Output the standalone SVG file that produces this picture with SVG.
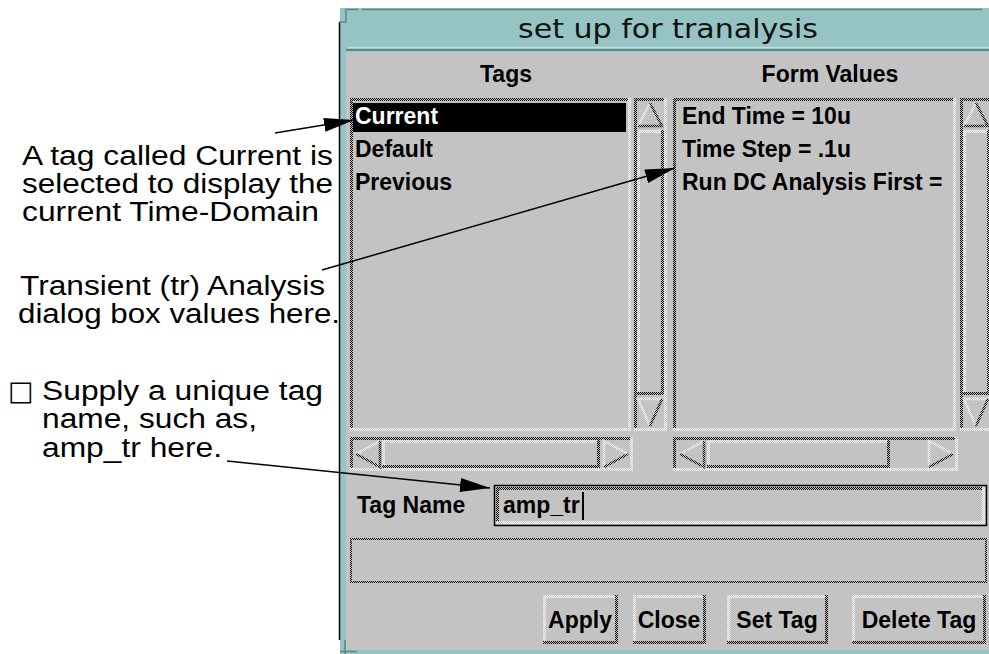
<svg xmlns="http://www.w3.org/2000/svg" width="989" height="654" viewBox="0 0 989 654">
<defs>
  <!-- Motif-style stippled bevel fills -->
  <pattern id="dk" width="2" height="2" patternUnits="userSpaceOnUse">
    <rect width="2" height="2" fill="#c3c3c3"/>
    <rect width="1" height="1" fill="#000"/>
    <rect x="1" y="1" width="1" height="1" fill="#000"/>
  </pattern>
  <pattern id="lt" width="2" height="2" patternUnits="userSpaceOnUse">
    <rect width="2" height="2" fill="#c3c3c3"/>
    <rect width="1" height="1" fill="#fff"/>
    <rect x="1" y="1" width="1" height="1" fill="#fff"/>
  </pattern>
  <marker id="ah" markerWidth="30" markerHeight="14" refX="30" refY="7" orient="auto" markerUnits="userSpaceOnUse">
    <path d="M0,0 L30,7 L0,14 Z" fill="#000"/>
  </marker>
</defs>
<style>
  .gui{font-family:"Liberation Sans",Arial,sans-serif;font-weight:bold;font-size:23px;fill:#000}
  .note{font-family:"Liberation Sans",Arial,sans-serif;font-size:27px;fill:#000}
  .d{fill:url(#dk)}
  .l{fill:url(#lt)}
  .ld{stroke:url(#lt);stroke-width:2.5;fill:none}
  .dd{stroke:url(#dk);stroke-width:2.5;fill:none}
  .conn{stroke:#000;stroke-width:1.5;fill:none;marker-end:url(#ah)}
</style>
<rect width="989" height="654" fill="#fff"/>

<!-- window frame and title bar -->
<g id="window">
  <rect x="340" y="8" width="649" height="646" fill="#96c3c3"/>
  <rect x="346" y="52" width="643" height="598" fill="#c3c3c3"/>
  <line x1="339.5" y1="22" x2="339.5" y2="640" stroke="#000" stroke-width="1.5"/>
  <line x1="362" y1="9.5" x2="982" y2="9.5" stroke="#5b8787" stroke-width="1.5"/>
  <path d="M339,22 H346 V9.5 H358" stroke="#5b8787" stroke-width="1.5" fill="none"/>
  <line x1="348" y1="47.5" x2="989" y2="47.5" stroke="#bfe0e0" stroke-width="1.5"/>
  <line x1="346" y1="50" x2="989" y2="50" stroke="#5b8787" stroke-width="2"/>
  <path d="M345,640 V654 M340,651.5 H357" stroke="#5b8787" stroke-width="1.5" fill="none"/>
  <text x="518" y="38" textLength="300" lengthAdjust="spacingAndGlyphs" font-family="DejaVu Sans, sans-serif" font-size="27" fill="#111">set up for tranalysis</text>
</g>

<g id="headers">
  <text class="gui" x="506" y="82" text-anchor="middle">Tags</text>
  <text class="gui" x="830" y="82" text-anchor="middle">Form Values</text>
</g>

<!-- Tags list -->
<g id="tags-list">
  <rect class="d" x="350" y="98" width="281" height="3"/>
  <rect class="d" x="350" y="98" width="3" height="333"/>
  <rect class="l" x="350" y="428" width="281" height="3"/>
  <rect class="l" x="628" y="98" width="3" height="333"/>
  <rect x="353" y="103" width="273" height="29" fill="#000"/>
  <text class="gui" x="355" y="124" style="fill:#fff">Current</text>
  <text class="gui" x="355" y="157">Default</text>
  <text class="gui" x="355" y="190">Previous</text>
</g>

<!-- Tags vertical scrollbar -->
<g id="tags-vscroll">
  <rect class="d" x="634" y="98" width="33" height="3"/>
  <rect class="d" x="634" y="98" width="3" height="333"/>
  <rect class="l" x="634" y="428" width="33" height="3"/>
  <rect class="l" x="664" y="98" width="3" height="333"/>
  <rect class="l" x="637" y="130" width="27" height="3"/>
  <rect class="l" x="637" y="130" width="3" height="265"/>
  <rect class="d" x="637" y="392" width="27" height="3"/>
  <rect class="d" x="661" y="130" width="3" height="265"/>
  <path class="ld" d="M638,126 L650,103"/>
  <path class="dd" d="M650,103 L662,126 L638,126"/>
  <path class="ld" d="M662,399 L638,399 L650,426"/>
  <path class="dd" d="M650,426 L662,399"/>
</g>

<!-- Form values list -->
<g id="values-list">
  <rect class="d" x="673" y="98" width="283" height="3"/>
  <rect class="d" x="673" y="98" width="3" height="333"/>
  <rect class="l" x="673" y="428" width="283" height="3"/>
  <rect class="l" x="953" y="98" width="3" height="333"/>
  <text class="gui" x="682" y="124">End Time = 10u</text>
  <text class="gui" x="682" y="157">Time Step = .1u</text>
  <text class="gui" x="682" y="190">Run DC Analysis First =</text>
</g>

<!-- Form values vertical scrollbar -->
<g id="values-vscroll">
  <rect class="d" x="960" y="98" width="33" height="3"/>
  <rect class="d" x="960" y="98" width="3" height="333"/>
  <rect class="l" x="960" y="428" width="33" height="3"/>
  <rect class="l" x="963" y="130" width="27" height="3"/>
  <rect class="l" x="963" y="130" width="3" height="265"/>
  <rect class="d" x="963" y="392" width="27" height="3"/>
  <rect class="d" x="987" y="130" width="3" height="265"/>
  <path class="ld" d="M964,126 L976,103"/>
  <path class="dd" d="M976,103 L988,126 L964,126"/>
  <path class="ld" d="M988,399 L964,399 L976,426"/>
  <path class="dd" d="M976,426 L988,399"/>
</g>

<!-- Tags horizontal scrollbar -->
<g id="tags-hscroll">
  <rect class="d" x="350" y="437" width="283" height="3"/>
  <rect class="d" x="350" y="437" width="3" height="34"/>
  <rect class="l" x="350" y="468" width="283" height="3"/>
  <rect class="l" x="630" y="437" width="3" height="34"/>
  <rect class="l" x="382" y="440" width="218" height="3"/>
  <rect class="l" x="382" y="440" width="3" height="28"/>
  <rect class="d" x="382" y="465" width="218" height="3"/>
  <rect class="d" x="597" y="440" width="3" height="28"/>
  <path class="ld" d="M356,454 L380,441"/>
  <path class="dd" d="M380,441 L380,467 L356,454"/>
  <path class="ld" d="M604,467 L604,441 L628,454"/>
  <path class="dd" d="M628,454 L604,467"/>
</g>

<!-- Form values horizontal scrollbar -->
<g id="values-hscroll">
  <rect class="d" x="673" y="437" width="285" height="3"/>
  <rect class="d" x="673" y="437" width="3" height="34"/>
  <rect class="l" x="673" y="468" width="285" height="3"/>
  <rect class="l" x="955" y="437" width="3" height="34"/>
  <rect class="l" x="707" y="440" width="183" height="3"/>
  <rect class="l" x="707" y="440" width="3" height="28"/>
  <rect class="d" x="707" y="465" width="183" height="3"/>
  <rect class="d" x="887" y="440" width="3" height="28"/>
  <path class="ld" d="M680,454 L704,441"/>
  <path class="dd" d="M704,441 L704,467 L680,454"/>
  <path class="ld" d="M929,467 L929,441 L953,454"/>
  <path class="dd" d="M953,454 L929,467"/>
</g>

<!-- Tag name entry -->
<g id="tag-name">
  <text class="gui" x="357" y="513">Tag Name</text>
  <rect x="494.5" y="485.5" width="492" height="40" fill="none" stroke="#000" stroke-width="1.5"/>
  <rect class="d" x="496" y="487" width="489" height="3"/>
  <rect class="d" x="496" y="487" width="3" height="37"/>
  <rect class="l" x="496" y="521" width="489" height="3"/>
  <rect class="l" x="982" y="487" width="3" height="37"/>
  <text class="gui" x="503" y="513">amp_tr</text>
  <rect x="582" y="492" width="2" height="28" fill="#000"/>
</g>

<!-- message area -->
<g id="message">
  <rect class="d" x="350" y="538" width="637" height="2"/>
  <rect class="d" x="350" y="581" width="637" height="2"/>
  <rect class="d" x="350" y="538" width="2" height="45"/>
  <rect class="d" x="985" y="538" width="2" height="45"/>
</g>

<!-- push buttons -->
<g id="btn-apply">
  <rect class="l" x="543" y="595" width="75" height="3"/>
  <rect class="l" x="543" y="595" width="3" height="49"/>
  <rect class="d" x="543" y="641" width="75" height="3"/>
  <rect class="d" x="615" y="595" width="3" height="49"/>
  <text class="gui" x="580" y="628" text-anchor="middle">Apply</text>
</g>
<g id="btn-close">
  <rect class="l" x="633" y="595" width="73" height="3"/>
  <rect class="l" x="633" y="595" width="3" height="49"/>
  <rect class="d" x="633" y="641" width="73" height="3"/>
  <rect class="d" x="703" y="595" width="3" height="49"/>
  <text class="gui" x="669" y="628" text-anchor="middle">Close</text>
</g>
<g id="btn-settag">
  <rect class="l" x="727" y="595" width="101" height="3"/>
  <rect class="l" x="727" y="595" width="3" height="49"/>
  <rect class="d" x="727" y="641" width="101" height="3"/>
  <rect class="d" x="825" y="595" width="3" height="49"/>
  <text class="gui" x="777" y="628" text-anchor="middle">Set Tag</text>
</g>
<g id="btn-deletetag">
  <rect class="l" x="852" y="595" width="134" height="3"/>
  <rect class="l" x="852" y="595" width="3" height="49"/>
  <rect class="d" x="852" y="641" width="134" height="3"/>
  <rect class="d" x="983" y="595" width="3" height="49"/>
  <text class="gui" x="919" y="628" text-anchor="middle">Delete Tag</text>
</g>

<!-- callout notes -->
<g id="note-current">
  <text class="note" x="22" y="165" textLength="311" lengthAdjust="spacingAndGlyphs">A tag called Current is</text>
  <text class="note" x="22" y="193" textLength="311" lengthAdjust="spacingAndGlyphs">selected to display the</text>
  <text class="note" x="22" y="221" textLength="297" lengthAdjust="spacingAndGlyphs">current Time-Domain</text>
</g>
<g id="note-transient">
  <text class="note" x="20" y="295" textLength="305" lengthAdjust="spacingAndGlyphs">Transient (tr) Analysis</text>
  <text class="note" x="18" y="323" textLength="322" lengthAdjust="spacingAndGlyphs">dialog box values here.</text>
</g>
<g id="note-tagname">
  <text x="8" y="400" font-family="DejaVu Sans, sans-serif" font-size="27" fill="#000">□</text>
  <text class="note" x="42" y="400" textLength="281" lengthAdjust="spacingAndGlyphs">Supply a unique tag</text>
  <text class="note" x="42" y="428" textLength="215" lengthAdjust="spacingAndGlyphs">name, such as,</text>
  <text class="note" x="42" y="457" textLength="180" lengthAdjust="spacingAndGlyphs">amp_tr here.</text>
</g>

<!-- leader lines -->
<g id="connectors">
  <path class="conn" d="M275,133 L354,120"/>
  <path class="conn" d="M322,270 L675,168"/>
  <path class="conn" d="M227,461 L490,488"/>
</g>
</svg>
